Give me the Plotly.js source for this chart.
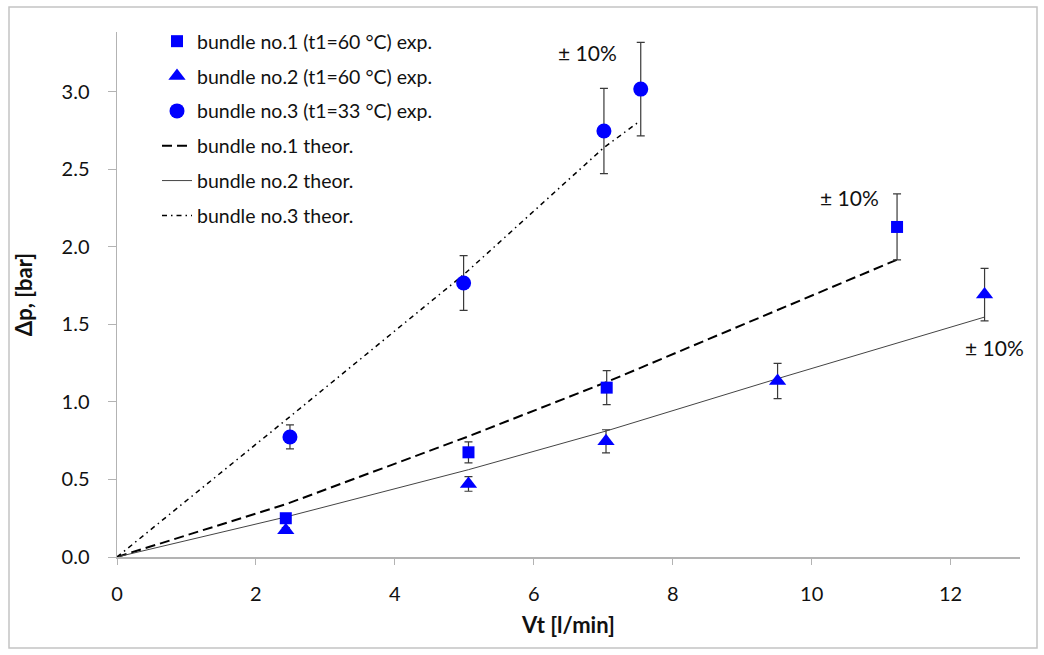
<!DOCTYPE html>
<html>
<head>
<meta charset="utf-8">
<script src="https://cdn.plot.ly/plotly-3.0.1.min.js"></script>
<style>html,body{margin:0;padding:0;background:#fff;}#chart{width:1044px;height:655px;}</style>
</head>
<body>
<div id="chart"></div>
<script>
// Experimental data
const x1 = [2.43, 5.06, 7.05, 11.23];
const y1 = [0.25, 0.675, 1.092, 2.128];
const x2 = [2.43, 5.06, 7.04, 9.51, 12.49];
const y2 = [0.172, 0.471, 0.746, 1.135, 1.692];
const x3 = [2.49, 4.99, 7.01, 7.54];
const y3 = [0.774, 1.767, 2.747, 3.017];
// Theoretical curves
const t1x = [0, 2.43, 5.06, 7.05, 11.23];
const t1y = [0, 0.34, 0.778, 1.128, 1.917];
const t2x = [0, 2.43, 5.06, 7.04, 9.51, 12.49];
const t2y = [0, 0.258, 0.563, 0.812, 1.15, 1.547];
const t3x = [0, 2.49, 4.99, 7.01, 7.51];
const t3y = [0, 0.905, 1.82, 2.64, 2.805];
// Labels
const names = ["bundle no.1 (t1=60 °C) exp.", "bundle no.2 (t1=60 °C) exp.", "bundle no.3 (t1=33 °C) exp.",
               "bundle no.1 theor.", "bundle no.2 theor.", "bundle no.3 theor."];
const yTicks = [0, 0.5, 1.0, 1.5, 2.0, 2.5, 3.0];
const xTicks = [0, 2, 4, 6, 8, 10, 12];
const errLabel = "± 10%";

const FONT = "Lato, 'Open Sans', sans-serif";
const TXT = "#111";
const blue = "#0000ff";
const err = {type: "percent", value: 10, visible: true, color: "#3a3a3a", thickness: 1.2, width: 4};

const traces = [
  {x: t1x, y: t1y, mode: "lines", name: names[3], legendrank: 4, legendgroup: "g4",
   line: {color: "#000", width: 2, dash: "10px,5px"}},
  {x: t2x, y: t2y, mode: "lines", name: names[4], legendrank: 5, legendgroup: "g5",
   line: {color: "#444", width: 1}},
  {x: t3x, y: t3y, mode: "lines", name: names[5], legendrank: 6, legendgroup: "g6",
   line: {color: "#000", width: 1.5, dash: "5px,4px,1.5px,4px"}},
  {x: x1, y: y1, mode: "markers", name: names[0], legendrank: 1, legendgroup: "g1",
   marker: {symbol: "square", size: 12, color: blue}, error_y: err},
  {x: x2, y: y2, mode: "markers", name: names[1], legendrank: 2, legendgroup: "g2",
   marker: {symbol: "triangle-up", size: 15, color: blue}, error_y: err},
  {x: x3, y: y3, mode: "markers", name: names[2], legendrank: 3, legendgroup: "g3",
   marker: {symbol: "circle", size: 15, color: blue}, error_y: err}
];

const L = 117, R = 24, T = 32, B = 98, W = 1044, H = 655;
const pw = W - L - R, ph = H - T - B;
const px = v => (v - L) / pw;
const py = v => (H - B - v) / ph;

const annFont = {family: FONT, size: 21, color: TXT};
const layout = {
  width: W, height: H,
  margin: {l: L, r: R, t: T, b: B, pad: 0},
  paper_bgcolor: "#fff", plot_bgcolor: "#fff",
  font: {family: FONT, size: 19, color: TXT},
  showlegend: true,
  legend: {x: px(157), y: py(22), xanchor: "left", yanchor: "top", traceorder: "grouped",
           tracegroupgap: 6.5, bgcolor: "rgba(0,0,0,0)", font: {family: FONT, size: 19.5, color: TXT}},
  xaxis: {range: [0, 13], tickvals: xTicks, ticktext: xTicks.map(String), showgrid: false, zeroline: false,
          showline: true, linecolor: "#b3b3b3", linewidth: 1.5, ticks: "outside", ticklen: 6, tickcolor: "#b3b3b3",
          tickfont: {family: FONT, size: 20, color: TXT}, ticklabelstandoff: 12, automargin: false,
          title: {text: "<b>Vt [l/min]</b>", font: {family: FONT, size: 22, color: TXT}, standoff: 14}},
  yaxis: {range: [0, 3.385], tickvals: yTicks, ticktext: yTicks.map(v => v.toFixed(1)), showgrid: false, zeroline: false,
          showline: true, linecolor: "#b3b3b3", linewidth: 1.5, ticks: "outside", ticklen: 8, tickcolor: "#b3b3b3",
          tickfont: {family: FONT, size: 20, color: TXT}, ticklabelstandoff: 14, automargin: false,
          title: {text: "<b>Δp, [bar]</b>", font: {family: FONT, size: 22, color: TXT}, standoff: 23}},
  annotations: [
    {x: 6.78, y: 3.25, xref: "x", yref: "y", text: errLabel, showarrow: false, font: annFont, xanchor: "center"},
    {x: 10.54, y: 2.321, xref: "x", yref: "y", text: errLabel, showarrow: false, font: annFont, xanchor: "center"},
    {x: 12.63, y: 1.348, xref: "x", yref: "y", text: errLabel, showarrow: false, font: annFont, xanchor: "center"}
  ],
  shapes: [
    {type: "rect", xref: "paper", yref: "paper", x0: px(9), x1: px(1037), y0: py(648), y1: py(7),
     line: {color: "#c4c4c4", width: 1.5}, fillcolor: "rgba(0,0,0,0)", layer: "below"}
  ]
};

Plotly.newPlot("chart", traces, layout, {displayModeBar: false, staticPlot: true});
</script>
</body>
</html>
